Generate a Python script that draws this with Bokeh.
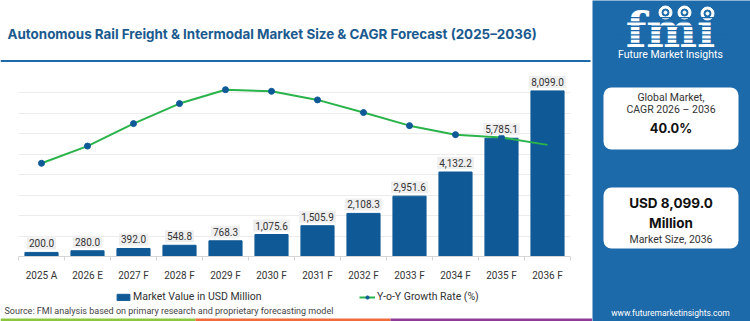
from bokeh.plotting import figure
from bokeh.layouts import row, column
from bokeh.models import (Range1d, FixedTicker, ColumnDataSource, Label,
                          BoxAnnotation, Legend, LegendItem)
from bokeh.embed import file_html
from bokeh.resources import INLINE

# ---- data -------------------------------------------------------------
years = ["2025 A", "2026 E", "2027 F", "2028 F", "2029 F", "2030 F",
         "2031 F", "2032 F", "2033 F", "2034 F", "2035 F", "2036 F"]
market_value = [200.0, 280.0, 392.0, 548.8, 768.3, 1075.6,
                1505.9, 2108.3, 2951.6, 4132.2, 5785.1, 8099.0]
growth_rate = [22.8, 27.0, 32.5, 37.4, 40.8, 40.4,
               38.3, 35.2, 32.0, 29.8, 29.1, 27.3]
value_ticks = [0, 1000, 2000, 3000, 4000, 5000, 6000, 7000, 8000, 9000]

BAR = "#0f5a96"
PANEL = "#1d6aaa"
GREEN = "#2bb34b"
TEXT = "#333333"
FONT = "Roboto"
HEAD_FONT = "Inter"

LEFT_W, PANEL_W = 592, 158
HEAD_H, CHART_H, FOOT_H = 62, 221, 38
PAD_L, PAD_R = 18, 22          # blank margin either side of the category band
SLOT = (LEFT_W - PAD_L - PAD_R) / len(years)
NAN = float("nan")


def canvas_fig(w, h, fill="white"):
    """A figure whose frame covers its whole canvas, y measured downward."""
    f = figure(width=w, height=h, output_backend="svg", toolbar_location=None,
               x_range=Range1d(0, w), y_range=Range1d(h, 0),
               min_border=0, min_border_left=0, min_border_right=0,
               min_border_top=0, min_border_bottom=0)
    f.axis.visible = False
    f.grid.visible = False
    f.outline_line_color = None
    f.background_fill_color = fill
    f.border_fill_color = fill
    return f


def box(f, l, r, t, b, color, radius=0, level="annotation"):
    f.add_layout(BoxAnnotation(left=l, right=r, top=t, bottom=b, level=level,
                               fill_color=color, fill_alpha=1, line_color=None,
                               border_radius=radius))


def text(f, x, y, s, size, color=TEXT, bold=False, align="left", font=FONT):
    f.add_layout(Label(x=x, y=y, text=s, text_font=font, text_font_size=size,
                       text_color=color, text_font_style="bold" if bold else "normal",
                       text_align=align, text_baseline="middle"))


# ---- header: title and rule ------------------------------------------
head = canvas_fig(LEFT_W, HEAD_H)
text(head, 7, 33, "Autonomous Rail Freight & Intermodal Market Size & CAGR Forecast (2025\u20132036)",
     "13.4px", color="#1b5a8e", bold=True, font=HEAD_FONT)
box(head, 0, 590, 59.5, 62, PANEL)

# ---- main chart -------------------------------------------------------
pos = list(range(len(years)))
src = ColumnDataSource(dict(x=pos, v=market_value, g=growth_rate))
band = (-0.5, len(years) - 0.5)

p = figure(width=LEFT_W, height=CHART_H, output_backend="svg", toolbar_location=None,
           x_range=Range1d(band[0] - PAD_L / SLOT, band[1] + PAD_R / SLOT),
           y_range=Range1d(value_ticks[0], value_ticks[-1]),
           min_border_left=0, min_border_right=0,
           min_border_top=10, min_border_bottom=26)
p.extra_y_ranges = {"growth": Range1d(0, 45)}
p.outline_line_color = None
p.background_fill_color = "white"
p.border_fill_color = "white"

p.yaxis.visible = False
p.ygrid.ticker = FixedTicker(ticks=value_ticks)
p.ygrid.grid_line_color = "#ececec"
p.xgrid.grid_line_color = None
# keep the horizontal grid inside the category band
box(p, None, band[0], None, None, "white", level="underlay")
box(p, band[1], None, None, None, "white", level="underlay")

xa = p.xaxis[0]
xa.bounds = band
xa.ticker = FixedTicker(ticks=pos, minor_ticks=[i - 0.5 for i in range(len(years) + 1)])
xa.major_label_overrides = {i: y for i, y in zip(pos, years)}
xa.axis_line_color = "#d6d6d6"
xa.major_tick_line_color = None
xa.major_tick_out = 0
xa.major_tick_in = 0
xa.minor_tick_line_color = "#d6d6d6"
xa.minor_tick_out = 4
xa.minor_tick_in = 0
xa.major_label_standoff = 9
xa.major_label_text_font = FONT
xa.major_label_text_font_size = "10px"
xa.major_label_text_color = TEXT

p.vbar(x="x", top="v", width=0.72, source=src, color=BAR)

for xi, v in zip(pos, market_value):
    p.add_layout(Label(x=xi, y=v, text=f"{v:,.1f}", y_offset=9,
                       text_align="center", text_baseline="middle",
                       text_font=FONT, text_font_size="10px", text_color=TEXT,
                       background_fill_color="#efefef", padding=2))

p.line(x="x", y="g", source=src, y_range_name="growth", line_color=GREEN, line_width=2)
dots_src = ColumnDataSource(dict(x=pos[:-1], g=growth_rate[:-1]))
p.scatter(x="x", y="g", source=dots_src, y_range_name="growth", size=6, color=BAR)

# ---- footer: legend, source note, colour stripes ----------------------
foot = canvas_fig(LEFT_W, FOOT_H)
# key glyphs for the legend (no visible points)
key_bar = foot.vbar(x=[NAN], top=[NAN], width=1, color=BAR)
key_line = foot.line(x=[NAN], y=[NAN], line_color=GREEN, line_width=2)
key_dot = foot.scatter(x=[NAN], y=[NAN], size=6, color=BAR)

leg1 = Legend(items=[LegendItem(label="Market Value in USD Million", renderers=[key_bar])],
              location=(115, 18), orientation="horizontal")
leg2 = Legend(items=[LegendItem(label="Y-o-Y Growth Rate (%)", renderers=[key_line, key_dot])],
              location=(359, 18), orientation="horizontal")
for lg in (leg1, leg2):
    lg.border_line_color = None
    lg.background_fill_alpha = 0
    lg.padding = 0
    lg.margin = 0
    lg.glyph_width = 16
    lg.glyph_height = 8
    lg.label_standoff = 2
    lg.label_height = 12
    lg.label_text_font = FONT
    lg.label_text_font_size = "10.5px"
    lg.label_text_color = TEXT
    foot.add_layout(lg)

text(foot, 4, 27, "Source: FMI analysis based on primary research and proprietary forecasting model",
     "9px", color="#444444")
box(foot, 0, 195, 35, 38, "#8cc63f")
box(foot, 195, 390, 35, 38, "#f26b3a")
box(foot, 390, 592, 35, 38, "#8e3a96")

# ---- side panel ---------------------------------------------------------
side = canvas_fig(PANEL_W, HEAD_H + CHART_H + FOOT_H, fill=PANEL)
text(side, 78, 29, "fm\u0131", "48px", color="white", bold=True, align="center",
     font="DejaVu Serif")
for k in range(7):  # engraved stripes across the logo lettering
    y0 = 16.5 + 4.3 * k
    box(side, 18, 138, y0, y0 + 1.3, PANEL)
side.scatter(x=[73, 92, 115], y=[12, 12, 13], size=13, color="white")
side.scatter(x=[73, 92, 115], y=[12, 12, 13], size=7, color=PANEL)
side.scatter(x=[73, 92, 115], y=[12, 12, 13], size=3, color="white")
text(side, 78, 54, "Future Market Insights", "10.5px", color="white", align="center")
text(side, 78, 312, "www.futuremarketinsights.com", "8.5px", color="white", align="center")

box(side, 11, 146, 87, 149, "white", 8)
text(side, 78.5, 97, "Global Market,", "10.5px", align="center")
text(side, 78.5, 109, "CAGR 2026 \u2013 2036", "10.5px", align="center")
text(side, 78.5, 128, "40.0%", "12.8px", color="#111111", bold=True, align="center", font=HEAD_FONT)

box(side, 11, 146, 187, 248, "white", 8)
text(side, 78.5, 202, "USD 8,099.0", "13.5px", color="#111111", bold=True, align="center", font=HEAD_FONT)
text(side, 78.5, 222, "Million", "13.5px", color="#111111", bold=True, align="center", font=HEAD_FONT)
text(side, 78.5, 239, "Market Size, 2036", "10.5px", align="center")

layout = row(column(head, p, foot, spacing=0), side, spacing=0)
open("out.html", "w").write(file_html(layout, INLINE))
